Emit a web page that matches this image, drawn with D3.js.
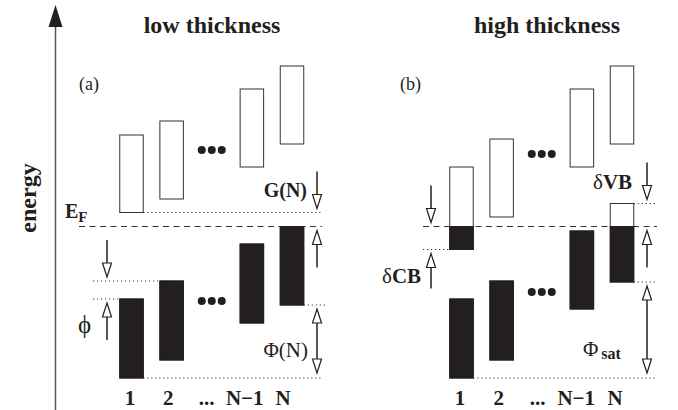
<!DOCTYPE html>
<html><head><meta charset="utf-8">
<script src="https://cdn.jsdelivr.net/npm/d3@7"></script>
<style>
html,body{margin:0;padding:0;background:#fff;}
svg text{font-family:"Liberation Serif","Times New Roman",Times,serif;fill:#231f20;}
</style></head>
<body>
<svg id="c" width="678" height="410"></svg>
<script>
// ---------- data (energies in arbitrary units, E_F = 0) ----------
const columns = ["1", "2", "...", "N−1", "N"];
const panelTitles = ["low thickness", "high thickness"];
const panelTags = ["(a)", "(b)"];
// panel (a): low thickness
const cbLowA  = [1.4, 2.75, null, 5.95, 8.25];
const cbHighA = [9.15, 10.55, null, 13.75, 16.05];
const vbLowA  = [-15.15, -13.35, null, -9.65, -7.85];
const vbHighA = [-7.25, -5.45, null, -1.75, 0];
const dotsA   = [7.65, -7.45];
// panel (b): high thickness
const cbLowB  = [-2.3, 0.95, null, 5.95, 8.25];
const cbHighB = [5.95, 8.75, null, 13.75, 16.05];
const vbLowB  = [-15.15, -13.35, null, -8.25, -5.55];
const vbHighB = [-7.25, -5.45, null, -0.45, 2.3];
const dotsB   = [7.25, -6.55];
const EF = 0;

// ---------- scales ----------
const svg = d3.select("#c");
const y = d3.scaleLinear().domain([-15.15, 16.05]).range([378, 66]);
const xA = d3.scalePoint().domain(columns).range([131.5, 292]);
const xB = d3.scalePoint().domain(columns).range([461.5, 622]);
const labA = d3.scalePoint().domain(columns).range([130, 283]);
const labB = d3.scalePoint().domain(columns).range([460, 615]);
const bw = 23.5;
const ink = "#231f20";

// ---------- energy axis ----------
svg.append("line").attr("x1", 55.5).attr("x2", 55.5).attr("y1", 22).attr("y2", 410)
  .attr("stroke", "#555").attr("stroke-width", 1.5);
svg.append("path").attr("d", "M55.5,5 L62.5,27 L48.5,27 Z").attr("fill", ink);
svg.append("text").attr("transform", "translate(36,198) rotate(-90)")
  .attr("text-anchor", "middle").attr("font-size", 24).attr("font-weight", "bold").text("energy");

// ---------- helpers ----------
function hline(g, yv, x1, x2, dash) {
  g.append("line").attr("x1", x1).attr("x2", x2).attr("y1", yv).attr("y2", yv)
    .attr("stroke", "#333").attr("stroke-width", 1).attr("stroke-dasharray", dash);
}
function head(g, x, tip, dir) { // dir: -1 pointing up, +1 pointing down
  const b = tip - dir * 14;
  g.append("path").attr("d", `M${x},${tip} L${x + 4.5},${b} L${x - 4.5},${b} Z`)
    .attr("fill", "#fff").attr("stroke", ink).attr("stroke-width", 1.2);
}
function arrow(g, x, tail, tip) {
  const dir = tip > tail ? 1 : -1;
  g.append("line").attr("x1", x).attr("x2", x).attr("y1", tail).attr("y2", tip - dir * 13)
    .attr("stroke", ink).attr("stroke-width", 1.5);
  head(g, x, tip, dir);
}
function darrow(g, x, top, bot) {
  g.append("line").attr("x1", x).attr("x2", x).attr("y1", top + 13).attr("y2", bot - 13)
    .attr("stroke", ink).attr("stroke-width", 1.5);
  head(g, x, top, -1);
  head(g, x, bot, 1);
}
function bands(g, xs, lows, highs) {
  columns.forEach((c, i) => {
    if (lows[i] == null) return;
    const x0 = xs(c) - bw / 2;
    g.append("rect").attr("x", x0).attr("width", bw)
      .attr("y", y(highs[i])).attr("height", y(lows[i]) - y(highs[i]))
      .attr("fill", "#fff").attr("stroke", "#333").attr("stroke-width", 1);
    if (lows[i] < EF) {
      const top = Math.min(highs[i], EF);
      g.append("rect").attr("x", x0).attr("width", bw)
        .attr("y", y(top)).attr("height", y(lows[i]) - y(top))
        .attr("fill", ink).attr("stroke", ink).attr("stroke-width", 1);
    }
  });
}
function dots(g, xs, levels) {
  levels.forEach(l => {
    [-10, 0, 10].forEach(d => g.append("circle").attr("cx", xs("...") + d).attr("cy", y(l))
      .attr("r", 4).attr("fill", ink));
  });
}
function bottomLabels(g, ls) {
  columns.forEach(c => g.append("text").attr("x", ls(c)).attr("y", 405)
    .attr("text-anchor", "middle").attr("font-size", 21).attr("font-weight", "bold").text(c));
}
const dot = "1.2,2.8", dash = "6,4.5";

// ---------- panel (a) ----------
const gA = svg.append("g");
gA.append("text").attr("x", 212).attr("y", 33).attr("text-anchor", "middle")
  .attr("font-size", 24).attr("font-weight", "bold").text(panelTitles[0]);
gA.append("text").attr("x", 79).attr("y", 90).attr("font-size", 18).text(panelTags[0]);
const rA = xA("N") + 30, aA = xA("N") + 25, lA = xA("1") - 24.5;
hline(gA, y(cbLowA[0]), xA("1") + bw / 2, rA, dot);
hline(gA, y(vbHighA[1]), xA("1") - 38.5, xA("2") - bw / 2, dot);
hline(gA, y(vbHighA[0]), xA("1") - 38.5, xA("1") - bw / 2, dot);
hline(gA, y(vbLowA[4]), xA("N") + bw / 2, rA + 3, dot);
hline(gA, y(vbLowA[0]), xA("1") + bw / 2, rA, dot);
hline(gA, y(EF), 79, rA, dash);
bands(gA, xA, cbLowA, cbHighA);
bands(gA, xA, vbLowA, vbHighA);
dots(gA, xA, dotsA);
arrow(gA, aA, y(cbLowA[0]) - 41, y(cbLowA[0]) - 4);
arrow(gA, aA, y(EF) + 41, y(EF) + 4);
darrow(gA, aA, y(vbLowA[4]) + 4, y(vbLowA[0]) - 5);
arrow(gA, lA, y(vbHighA[1]) - 41, y(vbHighA[1]) - 4);
arrow(gA, lA, y(vbHighA[0]) + 41, y(vbHighA[0]) + 4);
const ef = gA.append("text").attr("x", 65).attr("y", 218).attr("font-size", 20).attr("font-weight", "bold");
ef.append("tspan").text("E");
ef.append("tspan").attr("dy", 4).attr("font-size", 15).text("F");
gA.append("text").attr("x", 307).attr("y", 197).attr("text-anchor", "end")
  .attr("font-size", 20).attr("font-weight", "bold").text("G(N)");
gA.append("text").attr("x", 308).attr("y", 357).attr("text-anchor", "end")
  .attr("font-size", 21).text("Φ(N)");
gA.append("text").attr("x", 78).attr("y", 333).attr("font-size", 25).text("ϕ");
bottomLabels(gA, labA);

// ---------- panel (b) ----------
const gB = svg.append("g");
gB.append("text").attr("x", 547).attr("y", 33).attr("text-anchor", "middle")
  .attr("font-size", 24).attr("font-weight", "bold").text(panelTitles[1]);
gB.append("text").attr("x", 400).attr("y", 90).attr("font-size", 18).text(panelTags[1]);
const rB = xB("N") + 33, aB = xB("N") + 25, lB = xB("1") - 30.5;
hline(gB, y(vbHighB[4]), xB("N") + bw / 2, rB, dot);
hline(gB, y(cbLowB[0]), xB("1") - 38.5, xB("1") - bw / 2, dot);
hline(gB, y(vbLowB[4]), xB("N") + bw / 2, rB, dot);
hline(gB, y(vbLowB[0]), xB("1") + bw / 2, rB, dot);
hline(gB, y(EF), xB("1") - 38.5, rB + 2, dash);
bands(gB, xB, cbLowB, cbHighB);
bands(gB, xB, vbLowB, vbHighB);
dots(gB, xB, dotsB);
arrow(gB, lB, y(EF) - 41, y(EF) - 4);
arrow(gB, lB, y(cbLowB[0]) + 39, y(cbLowB[0]) + 4);
arrow(gB, aB, y(vbHighB[4]) - 41, y(vbHighB[4]) - 4);
arrow(gB, aB, y(EF) + 41, y(EF) + 4);
darrow(gB, aB, y(vbLowB[4]) + 4, y(vbLowB[0]) - 5);
const dcb = gB.append("text").attr("x", 382).attr("y", 283).attr("font-size", 21);
dcb.append("tspan").text("δ");
dcb.append("tspan").attr("font-weight", "bold").text("CB");
const dvb = gB.append("text").attr("x", 593).attr("y", 189).attr("font-size", 21);
dvb.append("tspan").text("δ");
dvb.append("tspan").attr("font-weight", "bold").text("VB");
const ps = gB.append("text").attr("x", 583).attr("y", 356).attr("font-size", 21);
ps.append("tspan").text("Φ");
ps.append("tspan").attr("dx", 3).attr("dy", 3).attr("font-size", 16).attr("font-weight", "bold").text("sat");
bottomLabels(gB, labB);
</script>
</body></html>
